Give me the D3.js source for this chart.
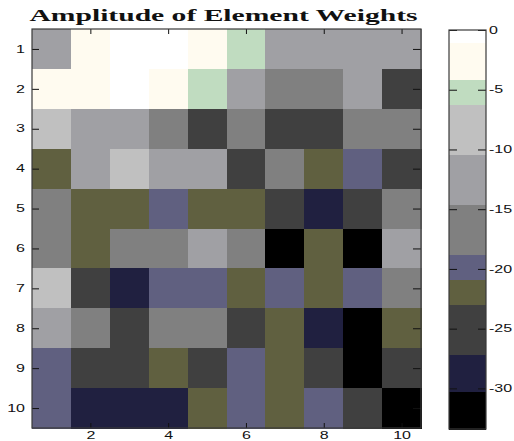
<!DOCTYPE html>
<html>
<head>
<meta charset="utf-8">
<script src="https://cdn.jsdelivr.net/npm/d3@7"></script>
<style>
  html, body { margin: 0; padding: 0; background: #fff; }
  svg { display: block; }
</style>
</head>
<body>
<svg id="chart" width="514" height="441"></svg>
<script>
// ---------- data ----------
const titleText = "Amplitude of Element Weights";
const rowLabels = [1, 2, 3, 4, 5, 6, 7, 8, 9, 10];
const colLabels = [1, 2, 3, 4, 5, 6, 7, 8, 9, 10];
const xTickValues = [2, 4, 6, 8, 10];
const cbarTickValues = [0, -5, -10, -15, -20, -25, -30];
const cMin = -33.4;
const cMax = 0;
// amplitude (dB) per row, columns 1..10
const amplitude = [
  [-12.1, -2.3, -0.5,  0.0, -3.1, -5.4, -11.8, -13.0, -12.7, -11.2],
  [ -1.9, -2.8, -0.6, -3.5, -5.0, -13.3, -16.2, -17.5, -12.9, -24.6],
  [ -8.9, -11.6, -13.7, -15.9, -25.8, -17.1, -24.1, -26.3, -16.6, -15.4],
  [-21.6, -12.4, -9.2, -11.9, -13.5, -25.2, -16.9, -22.3, -19.6, -24.8],
  [-17.8, -22.1, -21.4, -20.2, -22.5, -21.7, -23.9, -28.4, -26.1, -16.3],
  [-15.8, -21.9, -17.6, -16.4, -11.5, -15.1, -32.2, -22.0, -31.5, -12.2],
  [ -8.1, -25.5, -29.1, -19.9, -20.4, -21.3, -19.4, -22.6, -20.1, -17.3],
  [-13.1, -16.0, -24.4, -17.9, -15.6, -26.6, -21.8, -28.9, -32.7, -22.2],
  [-20.5, -25.1, -24.2, -21.5, -25.9, -19.3, -22.4, -26.8, -31.1, -23.7],
  [-19.7, -29.6, -28.2, -27.8, -21.2, -20.6, -22.8, -19.1, -24.9, -33.0]
];
// colormap bands, from top (0) downward: colour and number of colormap entries
const bandColors = ["#ffffff", "#fffbf0", "#c0dcc0", "#c0c0c0", "#a0a0a4", "#808080",
                    "#606080", "#606040", "#404040", "#202040", "#000000"];
const bandCounts = [1, 3, 2, 4, 4, 4, 2, 2, 4, 3, 3];

// ---------- build colormap (low -> high) ----------
const cmapTopDown = [];
bandColors.forEach((c, i) => { for (let k = 0; k < bandCounts[i]; k++) cmapTopDown.push(c); });
const cmap = cmapTopDown.slice().reverse();
const color = d3.scaleQuantize().domain([cMin, cMax]).range(cmap);

// ---------- layout ----------
const svg = d3.select("#chart");
const plot = { left: 32, top: 29, right: 421, bottom: 428 };
const cbar = { left: 449, right: 486, top: 30, bottom: 429 };
const textScale = 1.6;
const sansFont = "'Liberation Sans', Arial, sans-serif";
const serifFont = "'Liberation Serif', 'Times New Roman', serif";

const x = d3.scaleBand().domain(colLabels).range([plot.left, plot.right]).padding(0);
const y = d3.scaleBand().domain(rowLabels).range([plot.top, plot.bottom]).padding(0);
const xLin = d3.scaleLinear().domain([0.5, 10.5]).range([plot.left, plot.right]);
const yLin = d3.scaleLinear().domain([0.5, 10.5]).range([plot.top, plot.bottom]);

// cells
const cells = [];
amplitude.forEach((row, r) => row.forEach((v, c) => cells.push({ r: rowLabels[r], c: colLabels[c], v })));
svg.append("g").selectAll("rect").data(cells).join("rect")
  .attr("x", d => x(d.c))
  .attr("y", d => y(d.r))
  .attr("width", x.bandwidth() + 0.5)
  .attr("height", y.bandwidth() + 0.5)
  .attr("fill", d => color(d.v))
  .attr("shape-rendering", "crispEdges");

function stretch(sel) {
  sel.each(function () {
    const w = this.getComputedTextLength();
    d3.select(this).attr("textLength", w * textScale).attr("lengthAdjust", "spacingAndGlyphs");
  });
}

function styleAxis(g) {
  g.select(".domain").remove();
  g.selectAll("line").attr("stroke", "#111").attr("stroke-width", 1);
  g.selectAll("text").attr("fill", "#111")
    .style("font-size", "10px")
    .style("font-family", sansFont);
}

// left axis (labels)
const gl = svg.append("g").attr("transform", `translate(${plot.left},0)`)
  .call(d3.axisLeft(yLin).tickValues(rowLabels).tickSize(-7).tickPadding(7).tickFormat(d => String(d)));
styleAxis(gl); stretch(gl.selectAll("text"));
// right axis (ticks only)
const gr = svg.append("g").attr("transform", `translate(${plot.right},0)`)
  .call(d3.axisRight(yLin).tickValues(rowLabels).tickSize(-8).tickFormat(""));
styleAxis(gr);
// bottom axis
const gb = svg.append("g").attr("transform", `translate(0,${plot.bottom})`)
  .call(d3.axisBottom(xLin).tickValues(xTickValues).tickSize(-5).tickPadding(4).tickFormat(d => String(d)));
styleAxis(gb); stretch(gb.selectAll("text"));
// top axis (ticks only)
const gt = svg.append("g").attr("transform", `translate(0,${plot.top})`)
  .call(d3.axisTop(xLin).tickValues(xTickValues).tickSize(-5).tickFormat(""));
styleAxis(gt);

// plot border
svg.append("rect")
  .attr("x", plot.left).attr("y", plot.top)
  .attr("width", plot.right - plot.left).attr("height", plot.bottom - plot.top)
  .attr("fill", "none").attr("stroke", "#3a3a3a").attr("stroke-width", 1.2);

// ---------- colorbar ----------
const cy = d3.scaleLinear().domain([cMin, cMax]).range([cbar.bottom, cbar.top]);
const step = (cMax - cMin) / cmap.length;
svg.append("g").selectAll("rect").data(cmap).join("rect")
  .attr("x", cbar.left)
  .attr("y", (d, i) => cy(cMin + (i + 1) * step))
  .attr("width", cbar.right - cbar.left)
  .attr("height", (d, i) => cy(cMin + i * step) - cy(cMin + (i + 1) * step) + 0.5)
  .attr("fill", d => d)
  .attr("shape-rendering", "crispEdges");

const gcr = svg.append("g").attr("transform", `translate(${cbar.right},0)`)
  .call(d3.axisRight(cy).tickValues(cbarTickValues).tickSize(-8).tickPadding(3).tickFormat(d => String(d)));
styleAxis(gcr); stretch(gcr.selectAll("text"));
const gcl = svg.append("g").attr("transform", `translate(${cbar.left},0)`)
  .call(d3.axisRight(cy).tickValues(cbarTickValues).tickSize(8).tickFormat(""));
styleAxis(gcl);

svg.append("rect")
  .attr("x", cbar.left).attr("y", cbar.top)
  .attr("width", cbar.right - cbar.left).attr("height", cbar.bottom - cbar.top)
  .attr("fill", "none").attr("stroke", "#3a3a3a").attr("stroke-width", 1.2);

// ---------- title ----------
const title = svg.append("text")
  .attr("x", (plot.left + plot.right) / 2 - 3)
  .attr("y", 21)
  .attr("text-anchor", "middle")
  .style("font-family", serifFont)
  .style("font-weight", "bold")
  .style("font-size", "16px")
  .attr("fill", "#111")
  .text(titleText);
title.attr("textLength", 388).attr("lengthAdjust", "spacingAndGlyphs");
</script>
</body>
</html>
